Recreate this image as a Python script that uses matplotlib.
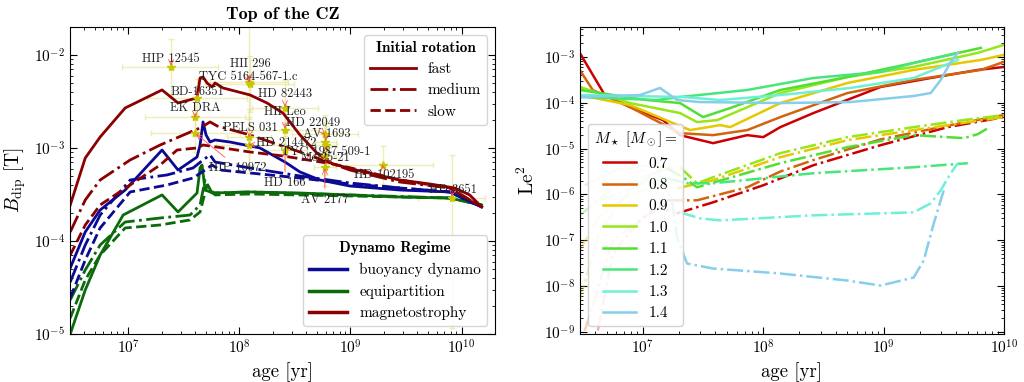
import numpy as np
import matplotlib
matplotlib.use('Agg')
import matplotlib.pyplot as plt
from matplotlib.lines import Line2D
from matplotlib.font_manager import FontProperties
from matplotlib.ticker import LogLocator, NullFormatter

plt.rcParams['font.family'] = 'serif'
plt.rcParams['font.serif'] = ['cmr10']
plt.rcParams['mathtext.fontset'] = 'cm'
plt.rcParams['axes.formatter.use_mathtext'] = True
plt.rcParams['axes.unicode_minus'] = False

# ---------------- left panel: B_dip at top of CZ (log10 age, log10 B) ----------------
mag_fast_age = [6.479, 6.614, 6.748, 6.973, 7.305, 7.449, 7.620, 7.647, 7.674, 7.710, 7.755, 7.782, 7.854,
                8.096, 8.249, 8.393, 8.546, 8.698, 8.842, 9.085, 9.444, 9.713, 9.938, 10.073, 10.181]
mag_fast_B = [-3.613, -3.108, -2.882, -2.570, -2.376, -2.516, -2.462, -2.247, -2.237, -2.301, -2.344, -2.301, -2.355,
              -2.430, -2.516, -2.624, -2.860, -3.054, -3.172, -3.247, -3.344, -3.387, -3.430, -3.505, -3.634]
mag_med_age = [6.479, 6.614, 6.748, 7.018, 7.288, 7.602, 7.647, 7.692, 7.737, 7.800, 8.096, 8.546, 8.995, 9.444, 9.893, 10.181]
mag_med_B = [-3.903, -3.559, -3.344, -3.129, -2.968, -2.807, -2.785, -2.753, -2.720, -2.763, -2.860, -3.043, -3.237,
             -3.366, -3.430, -3.634]
mag_slow_age = [6.479, 6.614, 6.748, 7.018, 7.288, 7.440, 7.620, 7.674, 8.096, 8.393, 8.842, 9.085, 9.444, 9.893, 10.181]
mag_slow_B = [-4.151, -3.828, -3.613, -3.398, -3.183, -3.022, -3.000, -2.968, -3.043, -3.086, -3.172, -3.237, -3.344,
              -3.430, -3.634]

buo_fast_age = [6.479, 6.614, 6.748, 6.973, 7.305, 7.449, 7.620, 7.647, 7.674, 7.701, 7.737, 7.782, 7.916, 8.186,
                8.411, 8.546, 8.725, 8.995, 9.444, 9.893, 10.181]
buo_fast_B = [-4.290, -3.903, -3.667, -3.452, -3.022, -3.237, -3.097, -2.968, -2.720, -2.860, -2.936, -2.914, -2.936,
              -3.000, -3.151, -3.258, -3.344, -3.409, -3.452, -3.473, -3.634]
buo_med_age = [6.479, 6.614, 6.748, 7.018, 7.350, 7.584, 7.674, 7.737, 7.782, 8.096, 8.546, 8.995, 9.444, 9.893, 10.181]
buo_med_B = [-4.441, -4.043, -3.721, -3.344, -3.290, -3.215, -3.129, -3.075, -3.151, -3.215, -3.301, -3.376, -3.430,
             -3.473, -3.634]
buo_slow_age = [6.479, 6.614, 6.748, 7.018, 7.350, 7.584, 7.692, 7.755, 7.827, 8.096, 8.546, 8.995, 9.444, 9.893, 10.181]
buo_slow_B = [-4.613, -4.204, -3.860, -3.473, -3.398, -3.323, -3.237, -3.183, -3.237, -3.269, -3.323, -3.387, -3.430,
              -3.473, -3.634]

equ_fast_age = [6.479, 6.614, 6.748, 6.955, 7.305, 7.449, 7.620, 7.647, 7.665, 7.692, 7.764, 8.096, 8.546, 9.444, 9.893, 10.181]
equ_fast_B = [-5.0, -4.527, -4.151, -3.721, -3.505, -3.688, -3.484, -3.215, -3.183, -3.452, -3.484, -3.473, -3.484,
              -3.527, -3.538, -3.613]
equ_med_age = [6.479, 6.614, 6.748, 6.973, 7.288, 7.557, 7.647, 7.692, 7.755, 8.096, 8.995, 9.893, 10.181]
equ_med_B = [-4.634, -4.312, -4.043, -3.796, -3.753, -3.721, -3.613, -3.344, -3.484, -3.473, -3.505, -3.538, -3.613]
equ_slow_age = [6.479, 6.614, 6.748, 6.973, 7.288, 7.557, 7.647, 7.710, 7.782, 8.096, 8.995, 9.893, 10.181]
equ_slow_B = [-4.828, -4.419, -4.151, -3.860, -3.828, -3.774, -3.688, -3.398, -3.505, -3.495, -3.516, -3.538, -3.613]

# observed stars (log10 age, log10 B, errors in dex) and label positions
star_names = ['HIP 12545', 'HII 296', 'TYC 5164-567-1.c', 'BD-16351', 'EK DRA', 'HD 82443', 'HII Leo', 'PELS 031',
              'HD 214472', 'HIP 10972', 'HD 166', 'HD 22049', 'AV 1693', 'TYC 1987-509-1', 'Mel25-21', 'AV 2177',
              'HD 102195', 'HD 3651']
star_age = [7.386, 8.087, 8.096, 7.620, 7.602, 8.411, 8.411, 8.087, 8.087, 7.602, 8.411, 8.770, 8.770, 8.779,
            8.770, 8.770, 9.291, 9.911]
star_B = [-2.129, -2.290, -2.310, -2.462, -2.667, -2.570, -2.807, -2.882, -2.968, -2.839, -3.022, -2.850, -2.936,
          -2.968, -3.086, -3.204, -3.183, -3.538]
star_age_lo = [0.44, 0.35, 0.40, 0.45, 0.45, 0.30, 0.30, 0.20, 0.30, 0.40, 0.20, 0.30, 0.10, 0.10, 0.10, 0.10, 0.45, 0.30]
star_age_hi = [0.42, 0.35, 0.40, 0.45, 0.45, 0.30, 0.30, 0.20, 0.30, 0.40, 0.20, 0.30, 0.10, 0.10, 0.10, 0.10, 0.45, 0.30]
star_B_lo = [0.30, 0.40, 0.30, 0.20, 0.20, 0.30, 0.25, 0.30, 0.30, 0.20, 0.30, 0.20, 0.20, 0.20, 0.20, 0.20, 0.20, 1.40]
star_B_hi = [0.30, 0.60, 0.30, 0.20, 0.20, 0.30, 0.25, 0.30, 0.30, 0.20, 0.30, 0.20, 0.20, 0.20, 0.20, 0.20, 0.20, 0.46]
label_age = [7.386, 8.096, 8.078, 7.620, 7.602, 8.411, 8.411, 8.096, 8.420, 7.988, 8.411, 8.662, 8.788, 8.779,
             8.779, 8.770, 9.300, 9.920]
label_B = [-2.043, -2.097, -2.237, -2.398, -2.570, -2.419, -2.613, -2.785, -2.946, -3.215, -3.376, -2.731, -2.850,
           -3.043, -3.108, -3.559, -3.290, -3.452]

# ---------------- right panel: Le^2 (log10 age, log10 Le^2) ----------------
masses = ['0.7', '0.8', '0.9', '1.0', '1.1', '1.2', '1.3', '1.4']
mass_colors = ['#cc0000', '#d2640f', '#e6c800', '#97e61a', '#50e032', '#48e67a', '#6ef0d6', '#87ceeb']

solid_age = [
    [6.475, 6.683, 6.892, 7.167, 7.308, 7.583, 7.867, 8.0, 8.142, 8.417, 8.975, 9.392, 9.783, 10.0],
    [6.475, 6.583, 6.892, 7.308, 7.583, 7.867, 8.142, 8.70, 9.25, 9.808, 10.0],
    [6.475, 6.892, 7.25, 7.392, 7.642, 7.725, 8.142, 8.70, 9.25, 9.808, 10.0],
    [6.475, 6.892, 7.308, 7.45, 7.617, 8.142, 8.70, 9.25, 9.783, 10.0],
    [6.475, 7.033, 7.308, 7.5, 7.725, 8.142, 8.70, 9.25, 9.808],
    [6.475, 7.117, 7.308, 7.867, 8.417, 8.975, 9.25, 9.617],
    [6.475, 7.333, 7.642, 8.142, 8.725, 9.25, 9.617],
    [6.475, 6.975, 7.142, 7.283, 7.475, 8.142, 8.725, 9.25, 9.392, 9.475, 9.558, 9.617],
]
solid_le2 = [
    [-2.912, -3.832, -4.094, -4.379, -4.707, -4.882, -4.707, -4.750, -4.532, -4.225, -3.656, -3.460, -3.284, -3.219],
    [-3.284, -3.722, -4.094, -4.663, -4.707, -4.597, -4.313, -3.788, -3.503, -3.284, -3.109],
    [-3.832, -4.050, -4.444, -4.597, -4.488, -4.532, -4.007, -3.569, -3.284, -3.066, -2.956],
    [-3.656, -4.007, -4.225, -4.422, -4.379, -3.788, -3.438, -3.219, -2.912, -2.737],
    [-3.722, -3.941, -4.007, -4.313, -4.116, -3.722, -3.438, -3.131, -2.803],
    [-3.875, -3.941, -3.875, -3.722, -3.460, -3.328, -3.131, -2.912],
    [-3.832, -3.875, -3.941, -3.832, -3.678, -3.460, -3.066],
    [-3.875, -3.832, -3.678, -3.941, -3.985, -4.007, -3.985, -3.853, -3.788, -3.503, -3.109, -2.912],
]
dd_age = [
    [6.625, 6.75, 6.975, 7.142, 7.283, 7.583, 8.0, 8.417, 8.975, 9.533, 10.0],
    [6.517, 6.75, 7.033, 7.2, 7.45, 7.867, 8.142, 8.417, 8.975, 9.533, 10.0],
    [6.475, 6.642, 6.892, 7.142, 7.283, 7.583, 8.142, 8.70, 9.25, 10.0],
    [6.475, 6.642, 6.892, 7.142, 7.308, 7.45, 7.583, 8.142, 8.70, 9.25, 9.667, 10.0],
    [6.475, 6.725, 6.975, 7.2, 7.333, 7.45, 8.142, 8.70, 9.25, 9.667, 9.783, 9.867],
    [6.642, 6.975, 7.2, 7.367, 7.583, 8.417, 9.25, 9.7],
    [6.642, 6.975, 7.142, 7.308, 7.475, 7.642, 8.417, 9.25, 9.392, 9.475, 9.558, 9.617],
    [6.517, 6.808, 7.1, 7.242, 7.283, 7.367, 7.583, 8.142, 8.70, 8.975, 9.25, 9.333, 9.417, 9.5],
]
dd_le2 = [
    [-8.974, -7.289, -6.567, -6.282, -6.414, -6.173, -5.801, -5.363, -4.926, -4.532, -4.313],
    [-8.974, -7.004, -6.457, -6.129, -6.129, -5.845, -5.500, -5.250, -4.800, -4.500, -4.269],
    [-7.223, -6.457, -6.020, -5.801, -5.867, -5.691, -5.188, -4.816, -4.597, -4.313],
    [-8.317, -6.786, -5.910, -5.473, -5.407, -5.757, -5.626, -5.101, -4.751, -4.532, -4.378, -4.269],
    [-6.457, -5.910, -5.648, -5.429, -5.626, -5.845, -5.319, -4.969, -4.707, -4.772, -4.685, -4.554],
    [-6.129, -5.801, -5.648, -5.757, -5.757, -5.538, -5.407, -5.319],
    [-5.582, -5.363, -6.129, -6.392, -6.523, -6.567, -6.457, -6.392, -6.195, -5.910, -5.538, -5.319],
    [-5.801, -5.429, -5.363, -6.129, -6.939, -7.508, -7.617, -7.726, -7.880, -7.989, -7.814, -7.442, -6.632, -5.910],
]
dd_faded = [4, 3, 4, 4, 3, 2, 3, 3]   # last index of the pale (pre-main-sequence) part

RED, BLUE, GREEN = '#8b0000', '#0a0a96', '#0b6b0b'

fig = plt.figure(figsize=(10.24, 3.82), dpi=100)
ax1 = fig.add_axes([0.0684, 0.1257, 0.415, 0.8037])
ax2 = fig.add_axes([0.5664, 0.1257, 0.414, 0.8037])


def p(a):
    return 10 ** np.asarray(a, dtype=float)


# ---- left ----
sa, sb = np.array(star_age), np.array(star_B)
xerr = [p(sa) - p(sa - np.array(star_age_lo)), p(sa + np.array(star_age_hi)) - p(sa)]
yerr = [p(sb) - p(sb - np.array(star_B_lo)), p(sb + np.array(star_B_hi)) - p(sb)]
ax1.errorbar(p(sa), p(sb), xerr=xerr, yerr=yerr, fmt='none', ecolor='#e3e38a', elinewidth=1.0,
             capsize=2, alpha=0.6, zorder=1)

for col, curves in [(GREEN, [(equ_fast_age, equ_fast_B), (equ_med_age, equ_med_B), (equ_slow_age, equ_slow_B)]),
                    (BLUE, [(buo_fast_age, buo_fast_B), (buo_med_age, buo_med_B), (buo_slow_age, buo_slow_B)]),
                    (RED, [(mag_fast_age, mag_fast_B), (mag_med_age, mag_med_B), (mag_slow_age, mag_slow_B)])]:
    for (x, y), ls in zip(curves, ['-', '-.', '--']):
        ax1.plot(p(x), p(y), color=col, ls=ls, lw=2, zorder=2)

ax1.plot(p(sa), p(sb), '*', color='#c8c800', ms=6, zorder=4)
for name, x, y, lx, ly in zip(star_names, star_age, star_B, label_age, label_B):
    ax1.annotate(name, xy=(10 ** x, 10 ** y), xytext=(10 ** lx, 10 ** ly), ha='center', va='center',
                 fontsize=9, color='#222222', zorder=5,
                 arrowprops=dict(arrowstyle='->', color='#ff5050', lw=0.6, shrinkA=2, shrinkB=1))

ax1.set_xscale('log')
ax1.set_yscale('log')
ax1.set_xlim(3e6, 2e10)
ax1.set_ylim(1e-5, 2e-2)
ax1.set_xlabel('age [yr]', fontsize=13.5)
ax1.set_ylabel(r'$B_{\rm dip}$ [T]', fontsize=14)
ax1.set_title('Top of the CZ', fontproperties=FontProperties(family='cmb10', size=13))

bold = FontProperties(family='cmb10', size=11)
rot_handles = [Line2D([], [], color=RED, lw=2, ls=ls) for ls in ['-', '-.', '--']]
leg1 = ax1.legend(rot_handles, ['fast', 'medium', 'slow'], title='Initial rotation', title_fontproperties=bold,
                  loc='upper right', fontsize=11, handlelength=3.0, edgecolor='#cccccc')
ax1.add_artist(leg1)
reg_handles = [Line2D([], [], color=c, lw=2.5) for c in [BLUE, GREEN, RED]]
ax1.legend(reg_handles, ['buoyancy dynamo', 'equipartition', 'magnetostrophy'], title='Dynamo Regime',
           title_fontproperties=bold, loc='lower right', fontsize=11, handlelength=2.5, edgecolor='#cccccc')

# ---- right ----
for i, m in enumerate(masses):
    c = mass_colors[i]
    x, y = p(dd_age[i]), p(dd_le2[i])
    k = dd_faded[i]
    ax2.plot(x[:k + 1], y[:k + 1], color=c, ls='-.', lw=1.8, alpha=0.3)
    ax2.plot(x[k:], y[k:], color=c, ls='-.', lw=1.8)
for i, m in enumerate(masses):
    ax2.plot(p(solid_age[i]), p(solid_le2[i]), color=mass_colors[i], lw=1.8, label=m)

ax2.set_xscale('log')
ax2.set_yscale('log')
ax2.set_xlim(3e6, 1e10)
ax2.set_ylim(9e-10, 4.5e-3)
ax2.set_xlabel('age [yr]', fontsize=13.5)
ax2.set_ylabel(r'Le$^2$', fontsize=14)
ax2.legend(title=r'$M_\star\ [M_\odot] =$', loc='lower left', fontsize=11, title_fontsize=11,
           handlelength=2.2, edgecolor='#cccccc', framealpha=0.85)

for ax in (ax1, ax2):
    ax.xaxis.set_major_locator(LogLocator(base=10, numticks=20))
    ax.yaxis.set_major_locator(LogLocator(base=10, numticks=20))
    ax.xaxis.set_minor_locator(LogLocator(base=10, subs=np.arange(2, 10), numticks=100))
    ax.yaxis.set_minor_locator(LogLocator(base=10, subs=np.arange(2, 10), numticks=100))
    ax.xaxis.set_minor_formatter(NullFormatter())
    ax.yaxis.set_minor_formatter(NullFormatter())
    ax.tick_params(which='both', direction='in', top=True, right=True, labelsize=11)
    ax.tick_params(which='major', length=5)
    ax.tick_params(which='minor', length=2.5)

fig.savefig('out.png', dpi=100)
